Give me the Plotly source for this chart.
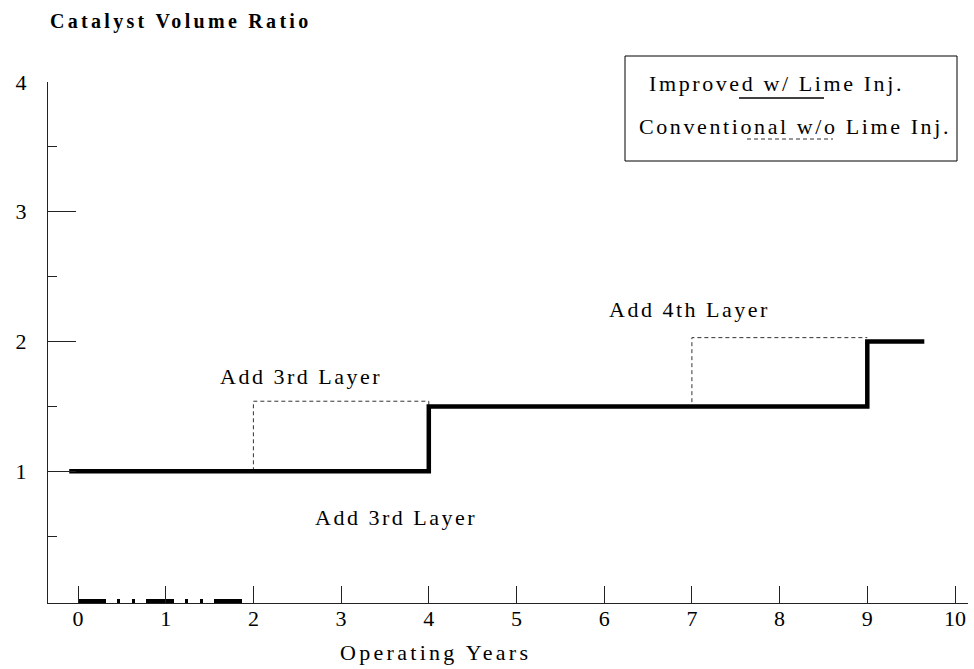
import plotly.graph_objects as go

# ---- data ----
years_improved = [-0.1, 4, 4, 9, 9, 9.65]
ratio_improved = [1, 1, 1.5, 1.5, 2, 2]
years_conventional = [2, 2, 4, 4, 7, 7, 9]
ratio_conventional = [1, 1.54, 1.54, 1.5, 1.5, 2.03, 2.03]
years_base = [0, 2]
ratio_base = [0, 0]
x_ticks = [0, 1, 2, 3, 4, 5, 6, 7, 8, 9, 10]
y_ticks = [1, 2, 3, 4]
y_minor = [0.5, 1.5, 2.5, 3.5]

FONT = "Liberation Serif, Times New Roman, serif"
W, H = 974, 669
L, R, T, B = 48, 968, 82, 603


def px(x):
    return (x - L) / (R - L)


def py(y):
    return (B - y) / (B - T)


def spaced(s, sp):
    return f'<span style="letter-spacing:{sp}px">{s}</span>'


fig = go.Figure()
fig.add_trace(go.Scatter(x=years_conventional, y=ratio_conventional, mode="lines",
                         line=dict(color="#333333", width=1, dash="4px,3px"),
                         hoverinfo="skip"))
fig.add_trace(go.Scatter(x=years_base, y=ratio_base, mode="lines",
                         line=dict(color="black", width=4,
                                   dash="28px,11px,3px,12px,3px,11px"),
                         hoverinfo="skip"))
fig.add_trace(go.Scatter(x=years_improved, y=ratio_improved, mode="lines",
                         line=dict(color="black", width=4.5),
                         hoverinfo="skip"))

ann_font = dict(family=FONT, size=22, color="black")
annotations = [
    dict(text=spaced("<b>Catalyst Volume Ratio</b>", 3.3), x=px(48), y=py(22),
         xanchor="left", yanchor="middle",
         font=dict(family=FONT, size=20, color="black")),
    dict(text=spaced("Add 3rd Layer", 2.5), x=px(301), y=py(376),
         xanchor="center", yanchor="middle", font=ann_font),
    dict(text=spaced("Add 3rd Layer", 2.5), x=px(396), y=py(517),
         xanchor="center", yanchor="middle", font=ann_font),
    dict(text=spaced("Add 4th Layer", 2.5), x=px(689), y=py(309),
         xanchor="center", yanchor="middle", font=ann_font),
    dict(text=spaced("Operating Years", 3.3), x=px(435), y=py(652),
         xanchor="center", yanchor="middle", font=ann_font),
    dict(text=spaced("Improved w/ Lime Inj.", 2.6), x=px(647), y=py(83),
         xanchor="left", yanchor="middle", font=ann_font),
    dict(text=spaced("Conventional w/o Lime Inj.", 2.6), x=px(637), y=py(126),
         xanchor="left", yanchor="middle", font=ann_font),
]
for a in annotations:
    a.update(xref="paper", yref="paper", showarrow=False)

shapes = [
    dict(type="rect", xref="paper", yref="paper", x0=px(625), x1=px(957),
         y0=py(161), y1=py(56), line=dict(color="black", width=1)),
    dict(type="line", xref="paper", yref="paper", x0=px(739), x1=px(824),
         y0=py(98), y1=py(98), line=dict(color="black", width=1.5)),
    dict(type="line", xref="paper", yref="paper", x0=px(747), x1=px(833),
         y0=py(139), y1=py(139), line=dict(color="#333333", width=1, dash="4px,3px")),
]

x0 = (L - 78) / 87.7
x1 = (R - 78) / 87.7

fig.update_layout(
    width=W, height=H,
    margin=dict(l=L, r=W - R, t=T, b=H - B, pad=0),
    plot_bgcolor="white", paper_bgcolor="white",
    showlegend=False,
    font=dict(family=FONT, size=22, color="black"),
    annotations=annotations,
    shapes=shapes,
    xaxis=dict(range=[x0, x1], tickvals=x_ticks, ticks="inside", ticklen=17,
               tickcolor="#222", tickwidth=1, showline=True, linecolor="#222",
               linewidth=1, showgrid=False, zeroline=False,
               ticklabelstandoff=-4,
               tickfont=dict(family=FONT, size=22, color="black")),
    yaxis=dict(range=[-0.015, 4], tickvals=y_ticks, ticks="inside", ticklen=28,
               tickcolor="#222", tickwidth=1, showline=True, linecolor="#222",
               linewidth=1, showgrid=False, zeroline=False,
               ticklabelstandoff=16,
               minor=dict(tickvals=y_minor, ticks="inside", ticklen=9,
                          tickcolor="#222", tickwidth=1, showgrid=False),
               tickfont=dict(family=FONT, size=22, color="black")),
)

fig.write_html("out.html", config={"displayModeBar": False},
               post_script="document.body.style.margin='0';document.body.style.overflow='hidden';")
